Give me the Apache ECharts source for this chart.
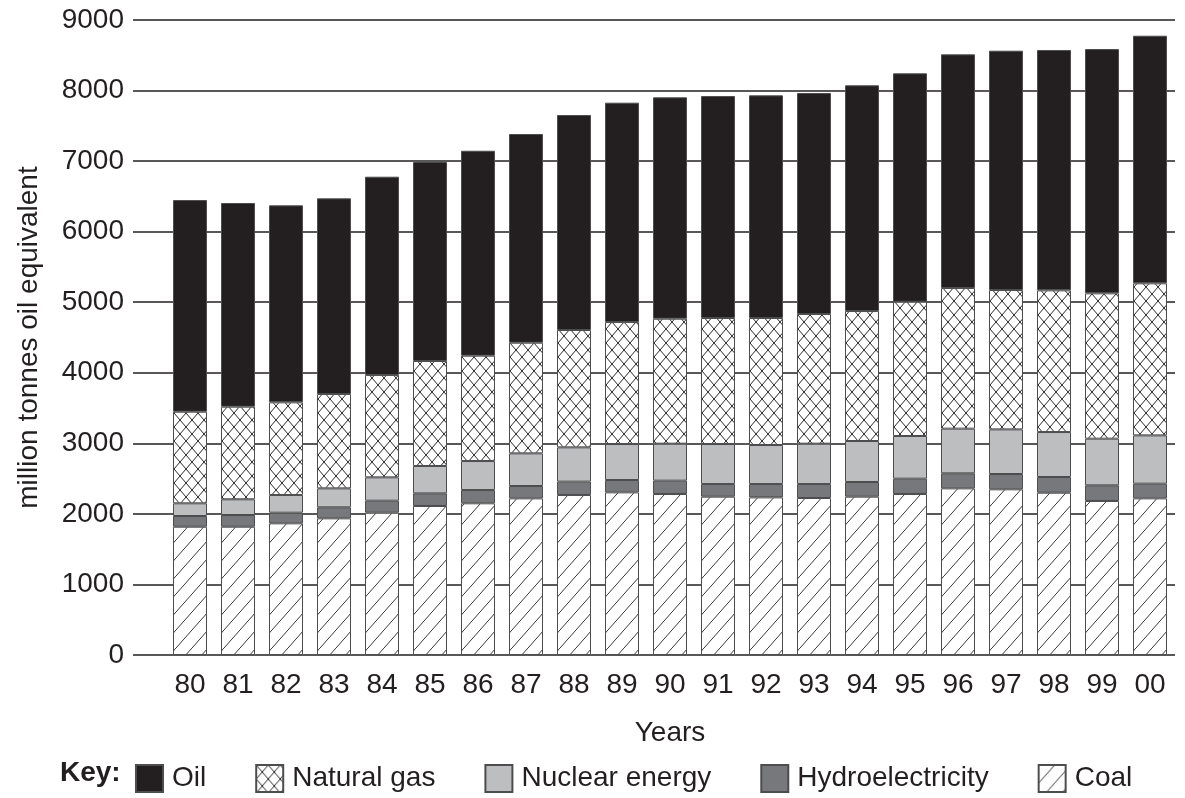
<!DOCTYPE html>
<html>
<head>
<meta charset="utf-8">
<script src="https://cdn.jsdelivr.net/npm/echarts@6/dist/echarts.min.js"></script>
<style>
html,body{margin:0;padding:0;background:#fff;}
#chart{width:1185px;height:798px;}
</style>
</head>
<body>
<div id="chart"></div>
<script>
const years = ['80','81','82','83','84','85','86','87','88','89','90','91','92','93','94','95','96','97','98','99','00'];
const coal = [1818,1818,1866,1937,2017,2112,2150,2220,2268,2305,2282,2244,2234,2225,2244,2282,2362,2348,2300,2183,2220];
const hydro = [152,166,151,156,170,179,188,175,189,175,189,179,189,198,208,217,213,217,223,222,208];
const nuclear = [180,223,251,269,331,388,411,463,486,510,524,567,553,572,581,605,633,633,637,661,685];
const gas = [1298,1312,1313,1337,1450,1488,1493,1568,1663,1729,1771,1786,1800,1838,1842,1903,1993,1975,2008,2060,2155];
const oil = [3000,2887,2792,2773,2811,2820,2905,2958,3047,3109,3138,3146,3156,3132,3199,3237,3312,3392,3406,3462,3509];
const legendNames = ['Oil','Natural gas','Nuclear energy','Hydroelectricity','Coal'];

const INK = '#231f20';
const FONT = 'Liberation Sans, Arial, sans-serif';
const FS = 28;

function coalPattern(){
  const w = 16, h = 18;
  const c = document.createElement('canvas'); c.width = w; c.height = h;
  const g = c.getContext('2d');
  g.fillStyle = '#fff'; g.fillRect(0,0,w,h);
  g.strokeStyle = '#3a3a3a'; g.lineWidth = 1;
  g.beginPath(); g.moveTo(0,h); g.lineTo(w,0); g.stroke();
  return c;
}
function gasPattern(){
  const w = 12, h = 14;
  const c = document.createElement('canvas'); c.width = w; c.height = h;
  const g = c.getContext('2d');
  g.fillStyle = '#fff'; g.fillRect(0,0,w,h);
  g.strokeStyle = '#2a2a2a'; g.lineWidth = 1;
  g.beginPath(); g.moveTo(0,h); g.lineTo(w,0); g.moveTo(0,0); g.lineTo(w,h); g.stroke();
  return c;
}

const chart = echarts.init(document.getElementById('chart'), null, {renderer:'canvas'});
const border = {borderColor:'#4d4d4f', borderWidth:1};
function mk(name, data, color){
  return {name, type:'bar', stack:'total', xAxisIndex:1, yAxisIndex:1, data,
    barWidth:34, itemStyle:Object.assign({color}, border), emphasis:{disabled:true}, animation:false};
}
const option = {
  animation:false,
  grid:[
    {left:133, right:10, top:20, bottom:143},
    {left:166, right:11, top:20, bottom:143}
  ],
  xAxis:[
    {gridIndex:0, type:'value', show:false, min:0, max:1},
    {gridIndex:1, type:'category', data:years,
     axisLine:{show:false}, axisTick:{show:false},
     axisLabel:{color:INK, fontSize:FS, fontFamily:FONT, margin:16},
     name:'Years', nameLocation:'middle', nameGap:64,
     nameTextStyle:{color:INK, fontSize:FS, fontFamily:FONT}}
  ],
  yAxis:[
    {gridIndex:0, type:'value', min:0, max:9000, interval:1000,
     axisLine:{show:false}, axisTick:{show:false},
     axisLabel:{color:INK, fontSize:FS, fontFamily:FONT, margin:9, formatter:v=>String(v)},
     splitLine:{lineStyle:{color:INK, width:1.6}},
     name:'million tonnes oil equivalent', nameLocation:'middle', nameGap:90, nameRotate:90,
     nameTextStyle:{color:INK, fontSize:FS, fontFamily:FONT}},
    {gridIndex:1, type:'value', min:0, max:9000, interval:1000, show:false, splitLine:{show:false}}
  ],
  legend:{
    data:legendNames,
    left:130, top:759, itemWidth:27, itemHeight:27, itemGap:49,
    icon:'rect',
    textStyle:{color:INK, fontSize:FS, fontFamily:FONT, padding:[0,0,0,4]},
    selectedMode:false
  },
  graphic:[{type:'text', left:60, top:759, style:{text:'Key:', font:'bold '+FS+'px '+FONT, fill:INK}}],
  series:[
    mk('Coal', coal, {image:coalPattern(), repeat:'repeat'}),
    mk('Hydroelectricity', hydro, '#77787b'),
    mk('Nuclear energy', nuclear, '#bcbec0'),
    mk('Natural gas', gas, {image:gasPattern(), repeat:'repeat'}),
    mk('Oil', oil, INK)
  ]
};
chart.setOption(option);
</script>
</body>
</html>
